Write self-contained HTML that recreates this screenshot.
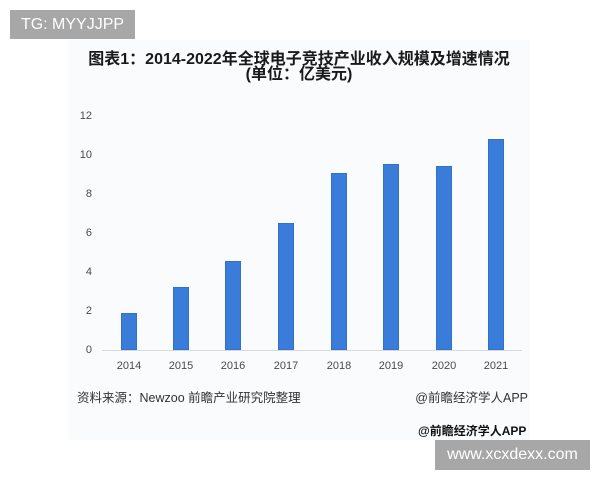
<!DOCTYPE html>
<html>
<head>
<meta charset="utf-8">
<style>
  html,body{margin:0;padding:0;}
  body{width:600px;height:480px;position:relative;background:#ffffff;overflow:hidden;
    font-family:"Liberation Sans","Noto Sans CJK SC",sans-serif;}
  .abs{position:absolute;}
  .panel{left:68px;top:40px;width:462px;height:400px;background:#f9fbfd;}
  .tg{left:10px;top:10px;width:125px;height:29px;background:#a7a7a7;color:#fff;
      font-size:16px;line-height:29px;text-align:center;}
  .www{left:435px;top:440px;width:155px;height:30px;background:#a7a7a7;color:#fff;
      font-size:16px;line-height:30px;text-align:center;}
  .title{left:69px;width:460px;text-align:center;font-weight:bold;color:#1a1a1a;font-size:16px;line-height:14px;white-space:nowrap;}
  .yl{width:30px;text-align:right;left:62px;font-size:11px;color:#4a4a4a;line-height:12px;}
  .xl{width:40px;text-align:center;font-size:11px;color:#4a4a4a;line-height:12px;top:360px;}
  .bar{background:#3a7cd9;width:16px;box-shadow:inset 0 0 0 1px #3470c8;}
  .src{left:77px;top:390px;font-size:12.5px;color:#333;line-height:16px;white-space:nowrap;}
  .app1{right:72px;top:390px;font-size:12.5px;color:#333;line-height:16px;white-space:nowrap;}
  .app2{left:418px;top:423px;font-size:12px;font-weight:bold;color:#111;line-height:16px;white-space:nowrap;}
</style>
</head>
<body>
  <div class="abs panel"></div>
  <div class="abs tg">TG: MYYJJPP</div>

  <div class="abs title" style="top:53px;">图表1：2014-2022年全球电子竞技产业收入规模及增速情况</div>
  <div class="abs title" style="top:68px;">(单位：亿美元)</div>

  <!-- y labels -->
  <div class="abs yl" style="top:110px;">12</div>
  <div class="abs yl" style="top:149px;">10</div>
  <div class="abs yl" style="top:188px;">8</div>
  <div class="abs yl" style="top:227px;">6</div>
  <div class="abs yl" style="top:266px;">4</div>
  <div class="abs yl" style="top:305px;">2</div>
  <div class="abs yl" style="top:344px;">0</div>

  <!-- axis -->
  <div class="abs" style="left:102px;top:350px;width:420px;height:1px;background:#d9d9d9;"></div>

  <!-- bars -->
  <div class="abs bar" style="left:121px;top:313px;height:37px;"></div>
  <div class="abs bar" style="left:173px;top:287px;height:63px;"></div>
  <div class="abs bar" style="left:225px;top:261px;height:89px;"></div>
  <div class="abs bar" style="left:278px;top:223px;height:127px;"></div>
  <div class="abs bar" style="left:331px;top:173px;height:177px;"></div>
  <div class="abs bar" style="left:383px;top:164px;height:186px;"></div>
  <div class="abs bar" style="left:436px;top:166px;height:184px;"></div>
  <div class="abs bar" style="left:488px;top:139px;height:211px;"></div>

  <!-- x labels -->
  <div class="abs xl" style="left:109px;">2014</div>
  <div class="abs xl" style="left:161px;">2015</div>
  <div class="abs xl" style="left:213px;">2016</div>
  <div class="abs xl" style="left:266px;">2017</div>
  <div class="abs xl" style="left:319px;">2018</div>
  <div class="abs xl" style="left:371px;">2019</div>
  <div class="abs xl" style="left:424px;">2020</div>
  <div class="abs xl" style="left:476px;">2021</div>

  <div class="abs src">资料来源：Newzoo 前瞻产业研究院整理</div>
  <div class="abs app1">@前瞻经济学人APP</div>
  <div class="abs app2">@前瞻经济学人APP</div>

  <div class="abs www">www.xcxdexx.com</div>
</body>
</html>
